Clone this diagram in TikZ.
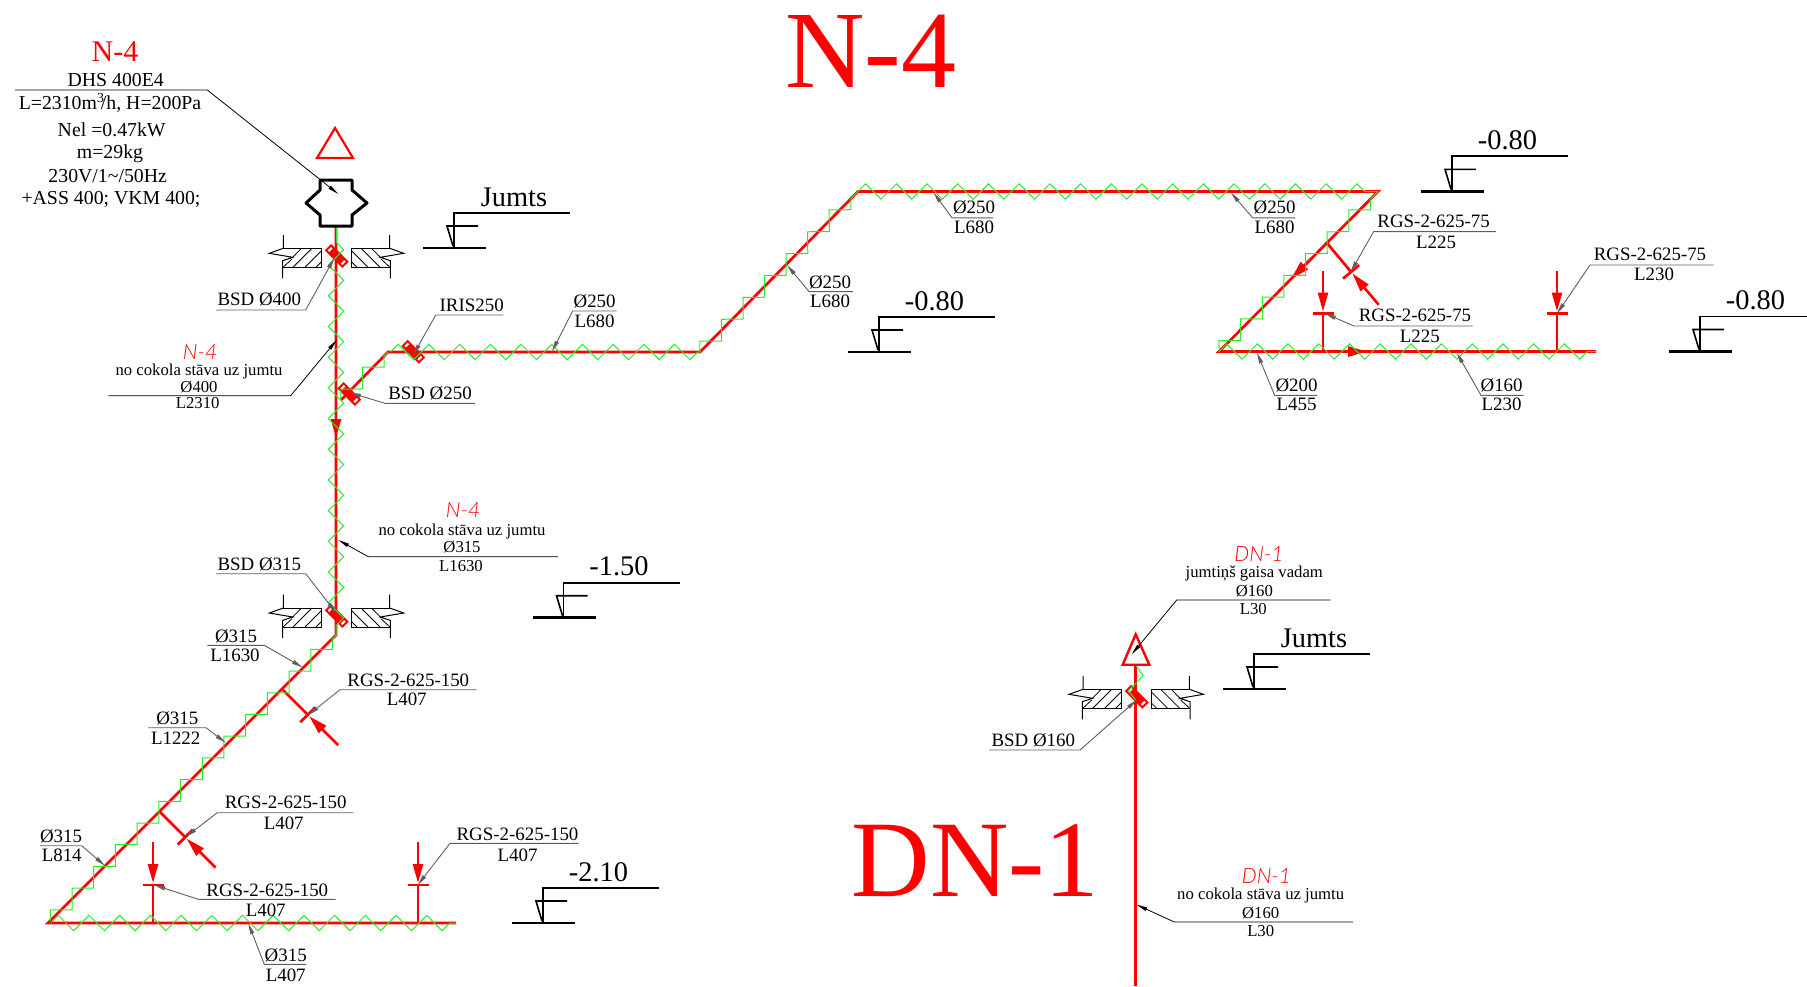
\documentclass[tikz,border=0pt]{standalone}
\usepackage{fontspec}
\setmainfont{Liberation Serif}
\newfontfamily\cadfont[ItalicFont=* Light Italic]{Lato}
\usetikzlibrary{arrows.meta,decorations.pathmorphing}
\definecolor{ductred}{RGB}{255,0,0}
\definecolor{ductgreen}{RGB}{40,235,40}
\definecolor{leadgray}{RGB}{95,95,95}
\tikzset{
  pipe/.style = {draw=ductred, line width=1.35pt},
  zig/.style = {draw=ductgreen, line width=0.5pt, decorate,
    decoration={zigzag, segment length=15.35pt, amplitude=3.84pt}},
  flow/.style = {draw=ductred, line width=1.3pt, -{Triangle[length=9.5pt,width=5pt]}},
  leader/.style = {draw=leadgray, line width=0.45pt, -{Triangle[length=5.5pt,width=2pt]}},
  blackleader/.style = {draw=black, line width=0.4pt, -{Triangle[length=5.5pt,width=1.8pt]}},
  lbl/.style = {inner sep=0pt, font=\fontsize{9.45}{11}\selectfont},
  note/.style = {inner sep=0pt, font=\fontsize{8.35}{9}\selectfont},
  fan/.style = {inner sep=0pt, font=\fontsize{9.9}{11}\selectfont},
  cad/.style = {inner sep=0pt, text=ductred, font=\fontsize{10.5}{12}\cadfont\itshape},
  big/.style = {inner sep=0pt, anchor=base, text=ductred},
  pics/levelmark/.style 2 args = {code={
    \draw[line width=1.4pt] (-31,0) -- (32,0);
    \draw[line width=0.9pt] (116,-35) -- (0,-35) -- (0,0);
    \draw[line width=0.8pt] (24,-22) -- (-7,-22) -- (-1,-2);
    \node[anchor=base, inner sep=0pt, font=\fontsize{14.2}{15}\selectfont] (txt) at (#2,-42) {#1};
  }},
  pics/wallcut/.style = {code={
    \draw[line width=0.5pt] (-52.7,-23) -- (-52.7,-9.7) -- (-66.7,-4.7) -- (-43.3,-0.7)
      -- (-53.3,2.7) -- (-53.3,20.3);
    \draw[line width=0.5pt] (-52.7,-9.7) -- (-14.3,-9.7) -- (-14.3,9.3) -- (-53.3,9.3);
    \draw[line width=0.4pt] (-53,9.3) -- (-44,1);
    \draw[line width=0.4pt] (-43,9.3) -- (-24,-9.7);
    \draw[line width=0.4pt] (-44,0) -- (-34.5,-9.7);
    \draw[line width=0.4pt] (-31,9.3) -- (-14.3,-7.4);
    \draw[line width=0.4pt] (-20,9.3) -- (-14.3,3.6);
  }},
  pics/damper/.style = {code={
    \draw[draw=ductred, fill=white, line width=1pt] (-11.5,-3.5) rectangle (11.5,3.5);
    \fill[ductred] (-8,-3.5) rectangle (8,3.5);
  }},
  pics/grille/.style = {code={
    \draw[pipe] (0,0) -- (0,-#1);
    \draw[pipe] (-10.5,-#1) -- (10.5,-#1);
    \draw[flow] (0,{-#1-43}) -- (0,{-#1-2});
  }},
}
\newcommand{\shelfline}[5][leader]{%
  \coordinate (#2a) at #3; \coordinate (#2b) at #4; \coordinate (#2c) at #5;
  \draw[#1] (#2a) -- (#2b) -- (#2c);}

\begin{document}
\begin{tikzpicture}[x=0.5pt, y=-0.5pt]
  \clip (0,0) rectangle (1807,986);

  % duct corners
  \coordinate (fanbot) at (336,226);
  \coordinate (zigtop) at (336,242);
  \coordinate (mainbot) at (336,635);
  \coordinate (lowleft) at (48,923);
  \coordinate (lowright) at (456,923);
  \coordinate (zigdiag) at (50.3,920.7);
  \coordinate (ziglow) at (50.7,923);
  \coordinate (tee) at (341,400);
  \coordinate (bendA) at (388,352);
  \coordinate (zigA) at (390.6,352);
  \coordinate (bendB) at (700,352);
  \coordinate (bendC) at (858,191.5);
  \coordinate (bendD) at (1378,191.5);
  \coordinate (bendE) at (1219,351.5);
  \coordinate (endE) at (1596,351.5);
  \coordinate (dntop) at (1135.7,664.7);
  \coordinate (dnbot) at (1135.7,986);

  % red ducts
  \draw[pipe] (fanbot) -- (mainbot) -- (lowleft) -- (lowright);
  \draw[pipe] (tee) -- (bendA) -- (bendB) -- (bendC) -- (bendD) -- (bendE) -- (endE);
  \draw[pipe] (dntop) -- (dnbot);

  % grilles
  \pic[rotate=-135] (gA) at (283,690) {grille=35};
  \pic[rotate=-135] (gB) at (159,811) {grille=37};
  \pic (gC) at (153,923) {grille=38};
  \pic (gD) at (418,923) {grille=38};
  \pic[rotate=-140] (gE) at (1326,242) {grille=39};
  \pic (gF) at (1323,351.5) {grille=38};
  \pic (gG) at (1557,351.5) {grille=38};

  % flow arrows
  \coordinate (flowAa) at (336,414); \coordinate (flowAb) at (336,438);
  \draw[flow] (flowAa) -- (flowAb);
  \coordinate (flowBa) at (1312,258); \coordinate (flowBb) at (1291,279);
  \draw[flow] (flowBa) -- (flowBb);
  \coordinate (flowCa) at (1340,351.5); \coordinate (flowCb) at (1367,351.5);
  \draw[flow] (flowCa) -- (flowCb);

  % dampers
  \pic[rotate=-45] (bsdA) at (336.7,256) {damper};
  \pic[rotate=-45] (bsdB) at (336.7,616) {damper};
  \pic[rotate=-45] (bsdC) at (349.3,394) {damper};
  \pic[rotate=-45] (bsdD) at (413.3,351.7) {damper};
  \pic[rotate=-45] (bsdE) at (1136.7,696.7) {damper};

  % green zigzag
  \draw[ductgreen, line width=0.5pt] (fanbot) -- (zigtop);
  \draw[zig] (zigtop) -- (mainbot);
  \draw[zig] (zigdiag) -- (mainbot);
  \draw[zig] (ziglow) -- (lowright);
  \draw[zig] (tee) -- (bendA);
  \draw[zig] (zigA) -- (bendB);
  \draw[zig] (bendB) -- (bendC);
  \draw[zig] (bendC) -- (bendD);
  \draw[zig] (bendE) -- (bendD);
  \draw[zig] (bendE) -- (endE);
  \draw[ductgreen, line width=0.5pt] (1135.7,665) -- (1143.3,675.7) -- (1128.3,690.7) -- (1135.7,700);

  % fan and roof caps
  \draw[line width=1.5pt, line join=round] (320,180) -- (352,180) -- (352,190) -- (367,203) -- (352,215)
    -- (352,226) -- (320,226) -- (320,215) -- (306,203) -- (320,190) -- cycle;
  \draw[draw=ductred, line width=1.1pt] (335,128) -- (353,158) -- (317,158) -- cycle;
  \draw[draw=ductred, line width=1.2pt] (1135.7,634.3) -- (1149.3,664.7) -- (1122.7,664.7) -- cycle;

  % wall cuts
  \pic (wA) at (336,258) {wallcut};
  \pic[xscale=-1] (wB) at (337,258) {wallcut};
  \pic (wC) at (336,617.7) {wallcut};
  \pic[xscale=-1] (wD) at (337,617.7) {wallcut};
  \pic (wE) at (1135.7,699) {wallcut};
  \pic[xscale=-1] (wF) at (1136.7,699) {wallcut};

  % level marks
  \pic (lvlA) at (454,248) {levelmark={Jumts}{60}};
  \pic (lvlB) at (1452,191.3) {levelmark={-0.80}{55.5}};
  \pic (lvlC) at (879,352) {levelmark={-0.80}{55.5}};
  \pic (lvlD) at (1700,351.5) {levelmark={-0.80}{55.5}};
  \pic (lvlE) at (563.5,617.7) {levelmark={-1.50}{55.5}};
  \pic (lvlF) at (543,923) {levelmark={-2.10}{55.5}};
  \pic (lvlG) at (1254,689) {levelmark={Jumts}{60}};

  % titles
  \node[big, font=\fontsize{55}{60}\selectfont] (titleN) at (871,87) {N-4};
  \node[big, font=\fontsize{54.4}{60}\selectfont] (titleD) at (975.5,896) {DN-1};

  % fan data
  \node[inner sep=0pt, text=ductred, font=\fontsize{15}{17}\selectfont] (fanN) at (115,51.7) {N-4};
  \node[fan] (fanA) at (115.7,80) {DHS 400E4};
  \node[fan] (fanB) at (110,103) {L=2310m\textsuperscript{3}\kern-2pt/h, H=200Pa};
  \node[fan] (fanC) at (111.7,130) {Nel =0.47kW};
  \node[fan] (fanD) at (110,154) {m=29kg};
  \node[fan] (fanE) at (107.7,175.7) {230V/1\textasciitilde/50Hz};
  \node[fan] (fanF) at (111,199.3) {+ASS 400; VKM 400;};
  \shelfline[blackleader]{lfan}{(15,90)}{(207.3,90)}{(338.3,194)}

  % left column labels
  \node[lbl] (bsd400) at (259.3,299.3) {BSD Ø400};
  \shelfline{lA}{(216,310)}{(305.7,310)}{(334.3,258)}
  \node[lbl] (iris) at (471.7,305) {IRIS250};
  \shelfline{lB}{(503.3,315)}{(435.7,315)}{(413.3,355)}
  \node[lbl] (bsd250) at (430,393) {BSD Ø250};
  \shelfline{lC}{(475,403.3)}{(385,403.3)}{(350,392.7)}

  \node[cad] (noteAa) at (200,351.7) {N-4};
  \node[note] (noteAb) at (199,371) {no cokola stāva uz jumtu};
  \node[note] (noteAc) at (199,386.7) {Ø400};
  \node[note] (noteAd) at (197.7,403) {L2310};
  \shelfline[blackleader]{lD}{(108.3,395.7)}{(290.7,395.7)}{(336.7,340)}

  \node[cad] (noteBa) at (463,510.5) {N-4};
  \node[note] (noteBb) at (462,531) {no cokola stāva uz jumtu};
  \node[note] (noteBc) at (462,547.5) {Ø315};
  \node[note] (noteBd) at (461,566) {L1630};
  \shelfline[blackleader]{lE}{(557.8,556.7)}{(368.3,556.7)}{(338.3,540)}

  \node[lbl] (bsd315) at (259.3,564) {BSD Ø315};
  \shelfline{lF}{(216,573.7)}{(305.7,573.7)}{(336,612.7)}
  \node[lbl] (dA) at (236,636) {Ø315};
  \node[lbl] (dAl) at (235,655.7) {L1630};
  \shelfline{lG}{(207.3,645.3)}{(264.3,645.3)}{(302.7,667.3)}
  \node[lbl] (rgsA) at (408.3,680) {RGS-2-625-150};
  \node[lbl] (rgsAl) at (406.7,699.3) {L407};
  \shelfline{lH}{(476.7,689.7)}{(340,689.7)}{(308.3,715)}
  \node[lbl] (dB) at (177.3,718.3) {Ø315};
  \node[lbl] (dBl) at (175.7,738.3) {L1222};
  \shelfline{lI}{(148.3,727.7)}{(206,727.7)}{(225.7,742.7)}
  \node[lbl] (rgsB) at (285.7,802.7) {RGS-2-625-150};
  \node[lbl] (rgsBl) at (283.7,823.7) {L407};
  \shelfline{lJ}{(353.3,812.7)}{(217.3,812.7)}{(186,836.7)}
  \node[lbl] (dC) at (61,836.7) {Ø315};
  \node[lbl] (dCl) at (61.7,855.7) {L814};
  \shelfline{lK}{(40,845.7)}{(81.7,845.7)}{(105,865.7)}
  \node[lbl] (rgsC) at (267.3,890) {RGS-2-625-150};
  \node[lbl] (rgsCl) at (265.7,910) {L407};
  \shelfline{lL}{(335.7,899.3)}{(198.3,899.3)}{(154.3,885)}
  \node[lbl] (rgsD) at (517.5,834.3) {RGS-2-625-150};
  \node[lbl] (rgsDl) at (517.5,855) {L407};
  \shelfline{lM}{(578.5,843.3)}{(450,843.3)}{(417.7,885)}
  \node[lbl] (dD) at (285.7,955) {Ø315};
  \node[lbl] (dDl) at (285.7,975) {L407};
  \shelfline{lN}{(306,964.3)}{(264.3,964.3)}{(248.3,923.3)}

  % upper duct labels
  \node[lbl] (dE) at (594.6,301) {Ø250};
  \node[lbl] (dEl) at (594.6,321.5) {L680};
  \shelfline{lO}{(616.5,311)}{(572.7,311)}{(552,351.5)}
  \node[lbl] (dF) at (830,282.3) {Ø250};
  \node[lbl] (dFl) at (830,301) {L680};
  \shelfline{lP}{(852.8,291.6)}{(809,291.6)}{(787,265)}
  \node[lbl] (dG) at (974,207.4) {Ø250};
  \node[lbl] (dGl) at (974,227) {L680};
  \shelfline{lQ}{(993.4,217.8)}{(952,217.8)}{(933.5,192.5)}
  \node[lbl] (dH) at (1274.6,207.4) {Ø250};
  \node[lbl] (dHl) at (1274.6,227) {L680};
  \shelfline{lR}{(1295.3,217.8)}{(1252.7,217.8)}{(1230.8,192.5)}
  \node[lbl] (rgsE) at (1433.6,221.3) {RGS-2-625-75};
  \node[lbl] (rgsEl) at (1436,242) {L225};
  \shelfline{lS}{(1495.8,231.6)}{(1373.6,231.6)}{(1350.6,272)}
  \node[lbl] (rgsF) at (1415,315.8) {RGS-2-625-75};
  \node[lbl] (rgsFl) at (1419.8,336.5) {L225};
  \shelfline{lT}{(1472.7,326)}{(1354,326)}{(1325,313.5)}
  \node[lbl] (rgsG) at (1650,254.7) {RGS-2-625-75};
  \node[lbl] (rgsGl) at (1654,274.3) {L230};
  \shelfline{lU}{(1713.6,265)}{(1590,265)}{(1557,313.5)}
  \node[lbl] (dI) at (1296.5,385) {Ø200};
  \node[lbl] (dIl) at (1296.5,404.5) {L455};
  \shelfline{lV}{(1317,395.3)}{(1274.6,395.3)}{(1257,352.6)}
  \node[lbl] (dJ) at (1501.6,385) {Ø160};
  \node[lbl] (dJl) at (1501.6,404.5) {L230};
  \shelfline{lW}{(1523.5,395.3)}{(1481,395.3)}{(1456.6,352.6)}

  % DN-1 labels
  \node[cad] (noteCa) at (1259,554) {DN-1};
  \node[note] (noteCb) at (1254.3,573.3) {jumtiņš gaisa vadam};
  \node[note] (noteCc) at (1254.3,590.7) {Ø160};
  \node[note] (noteCd) at (1253.3,608.7) {L30};
  \shelfline[blackleader]{lX}{(1330.7,600)}{(1176.7,600)}{(1131.7,654.3)}
  \node[lbl] (bsd160) at (1033.3,740) {BSD Ø160};
  \shelfline{lY}{(989,750)}{(1080,750)}{(1136.7,700)}
  \node[cad] (noteDa) at (1266.5,875.8) {DN-1};
  \node[note] (noteDb) at (1260.7,895.4) {no cokola stāva uz jumtu};
  \node[note] (noteDc) at (1260.7,912.7) {Ø160};
  \node[note] (noteDd) at (1260.7,931) {L30};
  \shelfline[blackleader]{lZ}{(1353,922)}{(1174.3,922)}{(1136.3,904.6)}
\end{tikzpicture}
\end{document}
